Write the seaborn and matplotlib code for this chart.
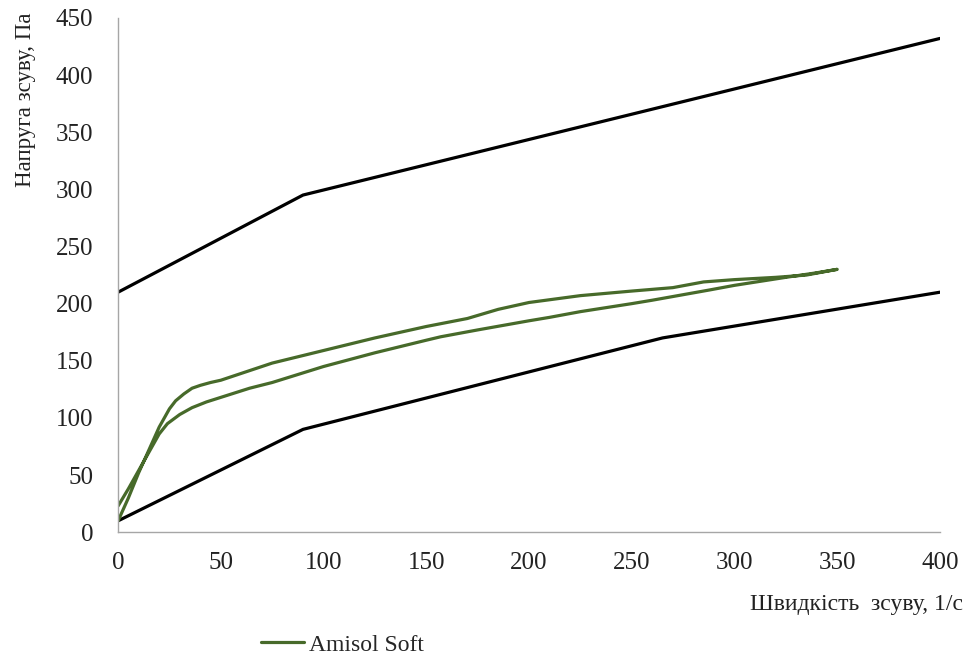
import numpy as np
import pandas as pd
import seaborn as sns
import matplotlib

matplotlib.use('Agg')
import matplotlib.pyplot as plt

# Amisol Soft, loop: up curve then down curve
rate_up = [0, 5, 10, 15, 20, 25, 28, 32, 36, 40, 45, 50, 60, 75, 100, 125, 150,
           170, 185, 200, 225, 250, 270, 285, 300, 320, 335, 350]
stress_up = [10, 30, 52, 72, 92, 108, 115, 121, 126, 128.5, 131, 133, 139, 148,
             159, 170, 180, 187, 195, 201, 207, 211, 214, 219, 221, 223, 225, 230]
rate_down = [350, 340, 325, 300, 288, 260, 250, 225, 210, 200, 175, 157, 150,
             125, 100, 75, 64, 50, 43, 36, 30, 24, 20, 15, 10, 5, 0]
stress_down = [230, 227, 223, 216, 212, 203, 200, 193, 188, 185, 177, 171, 168,
               157, 145, 131, 126, 118, 114, 109, 103, 95, 86, 70, 54, 38, 23]

# boundary lines
upper_x = [0, 90, 400]
upper_y = [210, 295, 432]
lower_x = [0, 90, 265, 400]
lower_y = [10, 90, 170, 210]

loop = pd.DataFrame({'x': rate_up + rate_down, 'y': stress_up + stress_down})

sns.set_theme(style='white')
plt.rcParams['font.family'] = ['Liberation Serif', 'DejaVu Serif']

fig = plt.figure(figsize=(9.68, 6.62), dpi=100)
ax = fig.add_axes([0.122, 0.196, 0.849, 0.777])

sns.lineplot(x=upper_x, y=upper_y, ax=ax, color='black', lw=2.3, sort=False,
             estimator=None, legend=False)
sns.lineplot(x=lower_x, y=lower_y, ax=ax, color='black', lw=2.3, sort=False,
             estimator=None, legend=False)
sns.lineplot(data=loop, x='x', y='y', ax=ax, color='#476a2a', lw=2.3,
             sort=False, estimator=None, label='Amisol Soft')
ax.lines[-1].set_solid_joinstyle('round')

ax.set_xlim(0, 400)
ax.set_ylim(0, 450)
ax.set_xticks(np.arange(0, 401, 50))
ax.set_yticks(np.arange(0, 451, 50))
ax.tick_params(axis='both', length=0, labelsize=18, colors='#222222')
ax.tick_params(axis='y', pad=18)
ax.tick_params(axis='x', pad=14)

for s in ['top', 'right']:
    ax.spines[s].set_visible(False)
for s in ['left', 'bottom']:
    ax.spines[s].set_color('#a6a6a6')
    ax.spines[s].set_linewidth(1)

ax.set_ylabel('Напруга зсуву, Па', fontsize=16.5, loc='top', color='#222222')
ax.yaxis.set_label_coords(-0.100, 1.01)
ax.set_xlabel('Швидкість  зсуву, 1/с', fontsize=17, loc='right', color='#222222')
ax.xaxis.set_label_coords(1.028, -0.12)

ax.legend(loc='center', bbox_to_anchor=(0.354, 0.026), bbox_transform=fig.transFigure,
          frameon=False, fontsize=17, handlelength=1.8, handletextpad=0.25)

fig.savefig('out.png', dpi=100)
